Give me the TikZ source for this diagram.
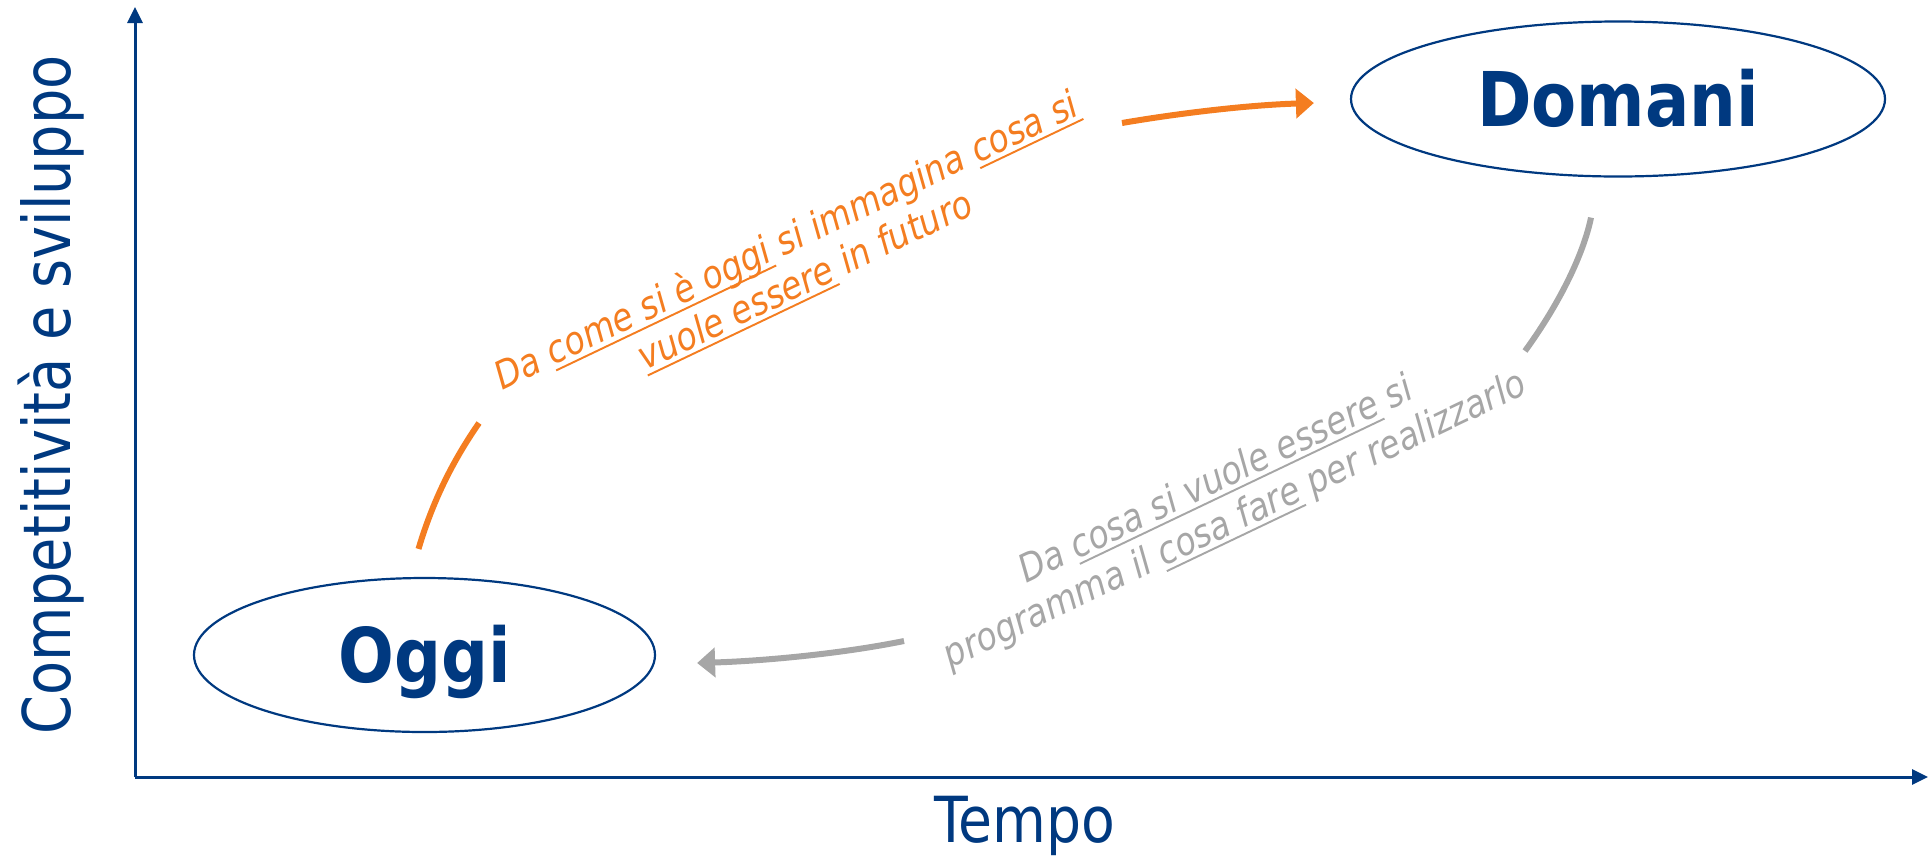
\documentclass[tikz,border=0pt]{standalone}
\usepackage{fontspec}
\setmainfont{DejaVu Sans}[FakeStretch=0.87]
\newfontfamily\ylabfont{DejaVu Sans}[FakeStretch=0.848]
\usetikzlibrary{shapes.geometric,arrows.meta}
\definecolor{navy}{RGB}{0,57,128}
\definecolor{orng}{RGB}{244,125,32}
\definecolor{gry}{RGB}{166,166,166}
\newsavebox\ulbox
\newcommand\myul[1]{\sbox\ulbox{#1}\rlap{\rule[-0.16em]{\wd\ulbox}{0.05em}}\usebox\ulbox}
\begin{document}
\begin{tikzpicture}[x=1pt,y=-1pt,
 axis/.style={draw=navy,line width=3pt,-{Triangle[length=16pt,width=15pt]}},
 bubble/.style={ellipse,draw=navy,line width=2.2pt,inner sep=0pt,text=navy,
   font=\fontsize{75.5}{90}\selectfont\bfseries,text height=55pt,text depth=0pt},
 flow/.style={line width=6pt},
 flowtip/.style={line width=6pt,-{Triangle[length=18pt,width=29pt]}},
 note/.style={rotate=25.5,align=center,font=\fontsize{38.5}{44}\selectfont\itshape,inner sep=0pt}
]
\useasboundingbox (0,0) rectangle (1929,855);
% axes
\coordinate (origin) at (135,777);
\coordinate (ytip) at (135,7);
\coordinate (xtip) at (1928,777);
\draw[axis] (origin) -- (ytip);
\draw[axis] (origin) -- (xtip);
\node[rotate=90,anchor=base,text=navy,font=\ylabfont\fontsize{65.8}{79}\selectfont,inner sep=0pt] (ylab) at (70,395) {Competitività e sviluppo};
\node[anchor=base,text=navy,font=\fontsize{63.5}{75}\selectfont,inner sep=0pt] (xlab) at (1025,842) {Tempo};
% bubbles
\node[bubble,minimum width=461pt,minimum height=154pt] (oggi) at (424.5,655) {Oggi};
\node[bubble,minimum width=534pt,minimum height=155pt] (domani) at (1618,99) {Domani};
% orange flow
\coordinate (oA) at ([shift={(-6,-28)}]oggi.north);
\coordinate (oB) at (479,423);
\coordinate (oC) at (1122,123);
\coordinate (oD) at ([shift={(-36,4)}]domani.west);
\draw[flow,orng] (oA) .. controls +(14,-47) and +(-27,39) .. (oB);
\draw[flowtip,orng] (oC) .. controls +(58,-10) and +(-65,2) .. (oD);
% gray flow
\coordinate (gA) at ([shift={(-27,40)}]domani.south);
\coordinate (gB) at (1525,351);
\coordinate (gC) at (904,641);
\coordinate (gD) at ([shift={(41,8)}]oggi.east);
\draw[flow,gry] (gA) .. controls +(-7,34) and +(37,-51) .. (gB);
\draw[flowtip,gry] (gC) .. controls +(-64,13) and +(65,-2) .. (gD);
% notes
\node[note,text=orng] (t1) at (796,261) {Da \myul{come si è oggi} si immagina \myul{cosa si}\\\myul{vuole essere} in futuro};
\node[note,text=gry] (t2) at (1226,501) {Da \myul{cosa si vuole essere} si\\programma il \myul{cosa fare} per realizzarlo};
\end{tikzpicture}
\end{document}
